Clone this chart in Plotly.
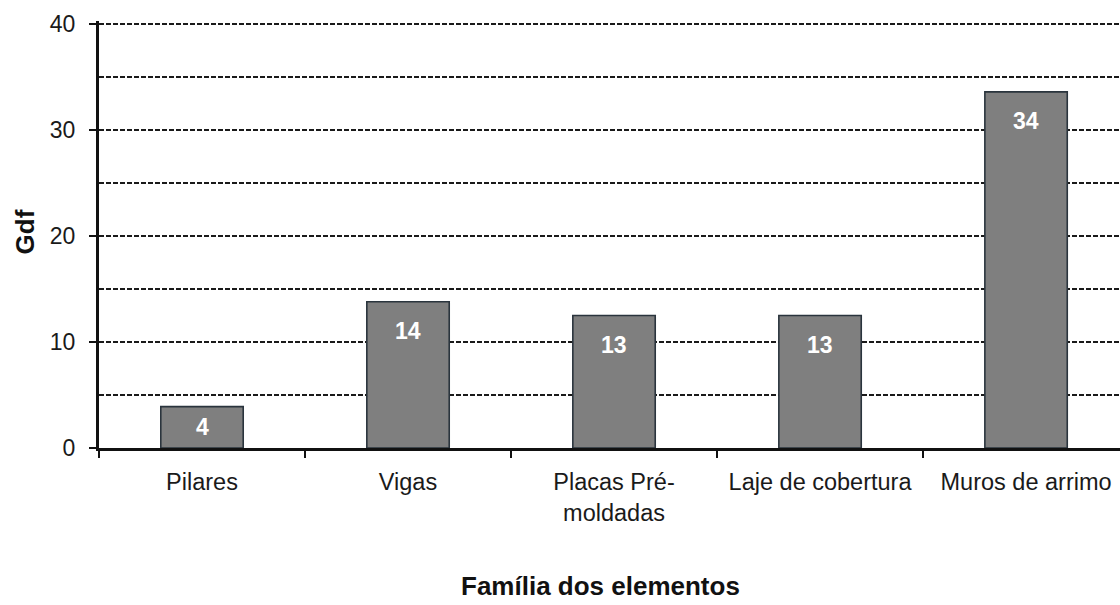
import plotly.graph_objects as go

categories = ["Pilares", "Vigas", "Placas Pré-<br>moldadas", "Laje de cobertura", "Muros de arrimo"]
values = [3.9, 13.8, 12.5, 12.5, 33.6]
labels = ["4", "14", "13", "13", "34"]
y_ticks = [0, 10, 20, 30, 40]
grid_minor = [5, 15, 25, 35]

FIG_W, FIG_H = 1120, 605
M_L, M_T, M_B = 99, 21, 157
PLOT_H = FIG_H - M_T - M_B          # 427 px
PX_PER_UNIT = 10.6                   # keeps 5-unit grid lines on whole pixels
Y_MAX = PLOT_H / PX_PER_UNIT         # 40 + three pixels of headroom

FONT = "Liberation Sans"

fig = go.Figure()
fig.add_trace(go.Bar(
    x=categories, y=values, width=0.4,
    marker=dict(color="#7f7f7f", line=dict(color="#2a343d", width=1.6)),
    hoverinfo="skip",
))

for c, v, t in zip(categories, values, labels):
    h = v * PX_PER_UNIT
    if h > 70:
        fig.add_annotation(x=c, y=v, yshift=-29, text=t, showarrow=False, yanchor="middle",
                           font=dict(family=FONT, size=23, color="white", weight="bold"))
    else:
        fig.add_annotation(x=c, y=v / 2, text=t, showarrow=False, yanchor="middle",
                           font=dict(family=FONT, size=23, color="white", weight="bold"))

fig.add_annotation(xref="paper", yref="paper", x=0.4907, y=-0.3232, yanchor="middle",
                   text="<b>Família dos elementos</b>", showarrow=False,
                   font=dict(family=FONT, size=26, color="#111"))
fig.add_annotation(xref="paper", yref="paper", x=-0.073, xanchor="center", y=0.506,
                   text="<b>Gdf</b>", textangle=-90, showarrow=False,
                   font=dict(family=FONT, size=26, color="#111"))

GRID = dict(showgrid=True, gridcolor="#1a1a1a", gridwidth=2, griddash="5px,2px")

fig.update_layout(
    width=FIG_W, height=FIG_H,
    margin=dict(l=M_L, r=0, t=M_T, b=M_B, pad=0),
    paper_bgcolor="white", plot_bgcolor="white",
    showlegend=False,
    font=dict(family=FONT, size=23, color="#1a1a1a"),
    xaxis=dict(
        range=[-0.5, 4.456], tickson="boundaries", ticks="outside", ticklen=7,
        tickcolor="#111", tickwidth=1.5,
        showline=True, linecolor="#111", linewidth=3,
        showgrid=False, fixedrange=True, ticklabelstandoff=11,
        tickfont=dict(size=23.5, color="#1a1a1a"),
    ),
    yaxis=dict(
        range=[0, Y_MAX], tickvals=y_ticks, ticks="outside", ticklen=7,
        tickcolor="#111", tickwidth=2,
        showline=True, linecolor="#111", linewidth=3,
        minor=dict(tickvals=grid_minor, ticks="", **GRID),
        zeroline=False, ticklabelstandoff=9, fixedrange=True,
        tickfont=dict(size=23, color="#1a1a1a"),
        **GRID,
    ),
)

fig.write_html(
    "out.html",
    config={"displayModeBar": False, "staticPlot": True},
    post_script="document.body.style.margin='0';document.body.style.overflow='hidden';",
)
